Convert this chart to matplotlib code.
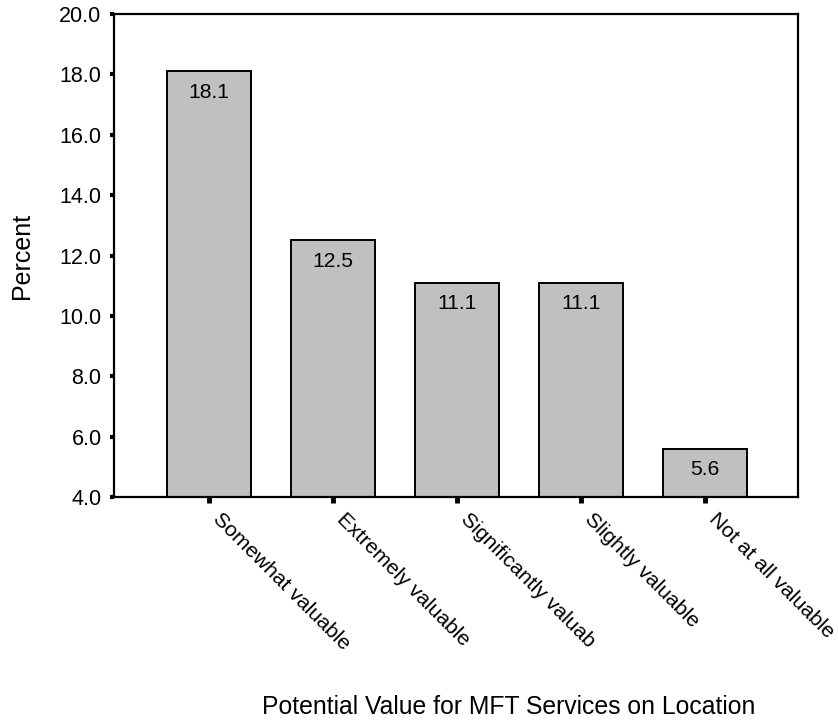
import matplotlib
matplotlib.use("Agg")
import matplotlib.pyplot as plt
import numpy as np

categories = ["Somewhat valuable", "Extremely valuable", "Significantly valuab",
              "Slightly valuable", "Not at all valuable"]
percents = [18.1, 12.5, 11.1, 11.1, 5.6]
yticks = [4.0, 6.0, 8.0, 10.0, 12.0, 14.0, 16.0, 18.0, 20.0]

plt.rcParams['font.family'] = ['Liberation Sans', 'DejaVu Sans']

W, H = 838, 723
fig = plt.figure(figsize=(W / 100, H / 100), dpi=100)
L, R, T, B = 114, 798, 14, 497
ax = fig.add_axes([L / W, 1 - B / H, (R - L) / W, (B - T) / H])

x = np.arange(len(categories))
bars = ax.bar(x, percents, width=0.68, color="#c0c0c0", edgecolor="black",
              linewidth=1.4, zorder=2)
ax.set_ylim(4.0, 20.0)
ax.set_xlim(-0.766, 4.75)

for xi, v in zip(x, percents):
    ax.annotate(f"{v:.1f}", xy=(xi, v), xytext=(0, -21), textcoords="offset pixels",
                ha="center", va="center", fontsize=15.2, color="black")

ax.set_yticks(yticks)
ax.set_yticklabels([f"{t:.1f}" for t in yticks], fontsize=15.5)
ax.set_xticks(x)
ax.set_xticklabels(categories, fontsize=15.3, rotation=-45, ha="left", va="top",
                   rotation_mode="default")

ax.tick_params(axis="y", direction="out", length=3, width=3, pad=6, color="black")
ax.tick_params(axis="x", direction="out", length=4, width=3.5, pad=5, color="black")

for s in ["left", "bottom", "top", "right"]:
    ax.spines[s].set_linewidth(1.6)
    ax.spines[s].set_color("black")

ax.set_ylabel("Percent", fontsize=18)
ax.yaxis.set_label_coords((22 - L) / (R - L), 0.5)
ax.yaxis.label.set_va("center")
ax.set_xlabel("Potential Value for MFT Services on Location", fontsize=17.8)
ax.xaxis.set_label_coords((508.5 - L) / (R - L), (B - 707) / (B - T))
ax.xaxis.label.set_va("center")

fig.savefig("out.png", dpi=100)
